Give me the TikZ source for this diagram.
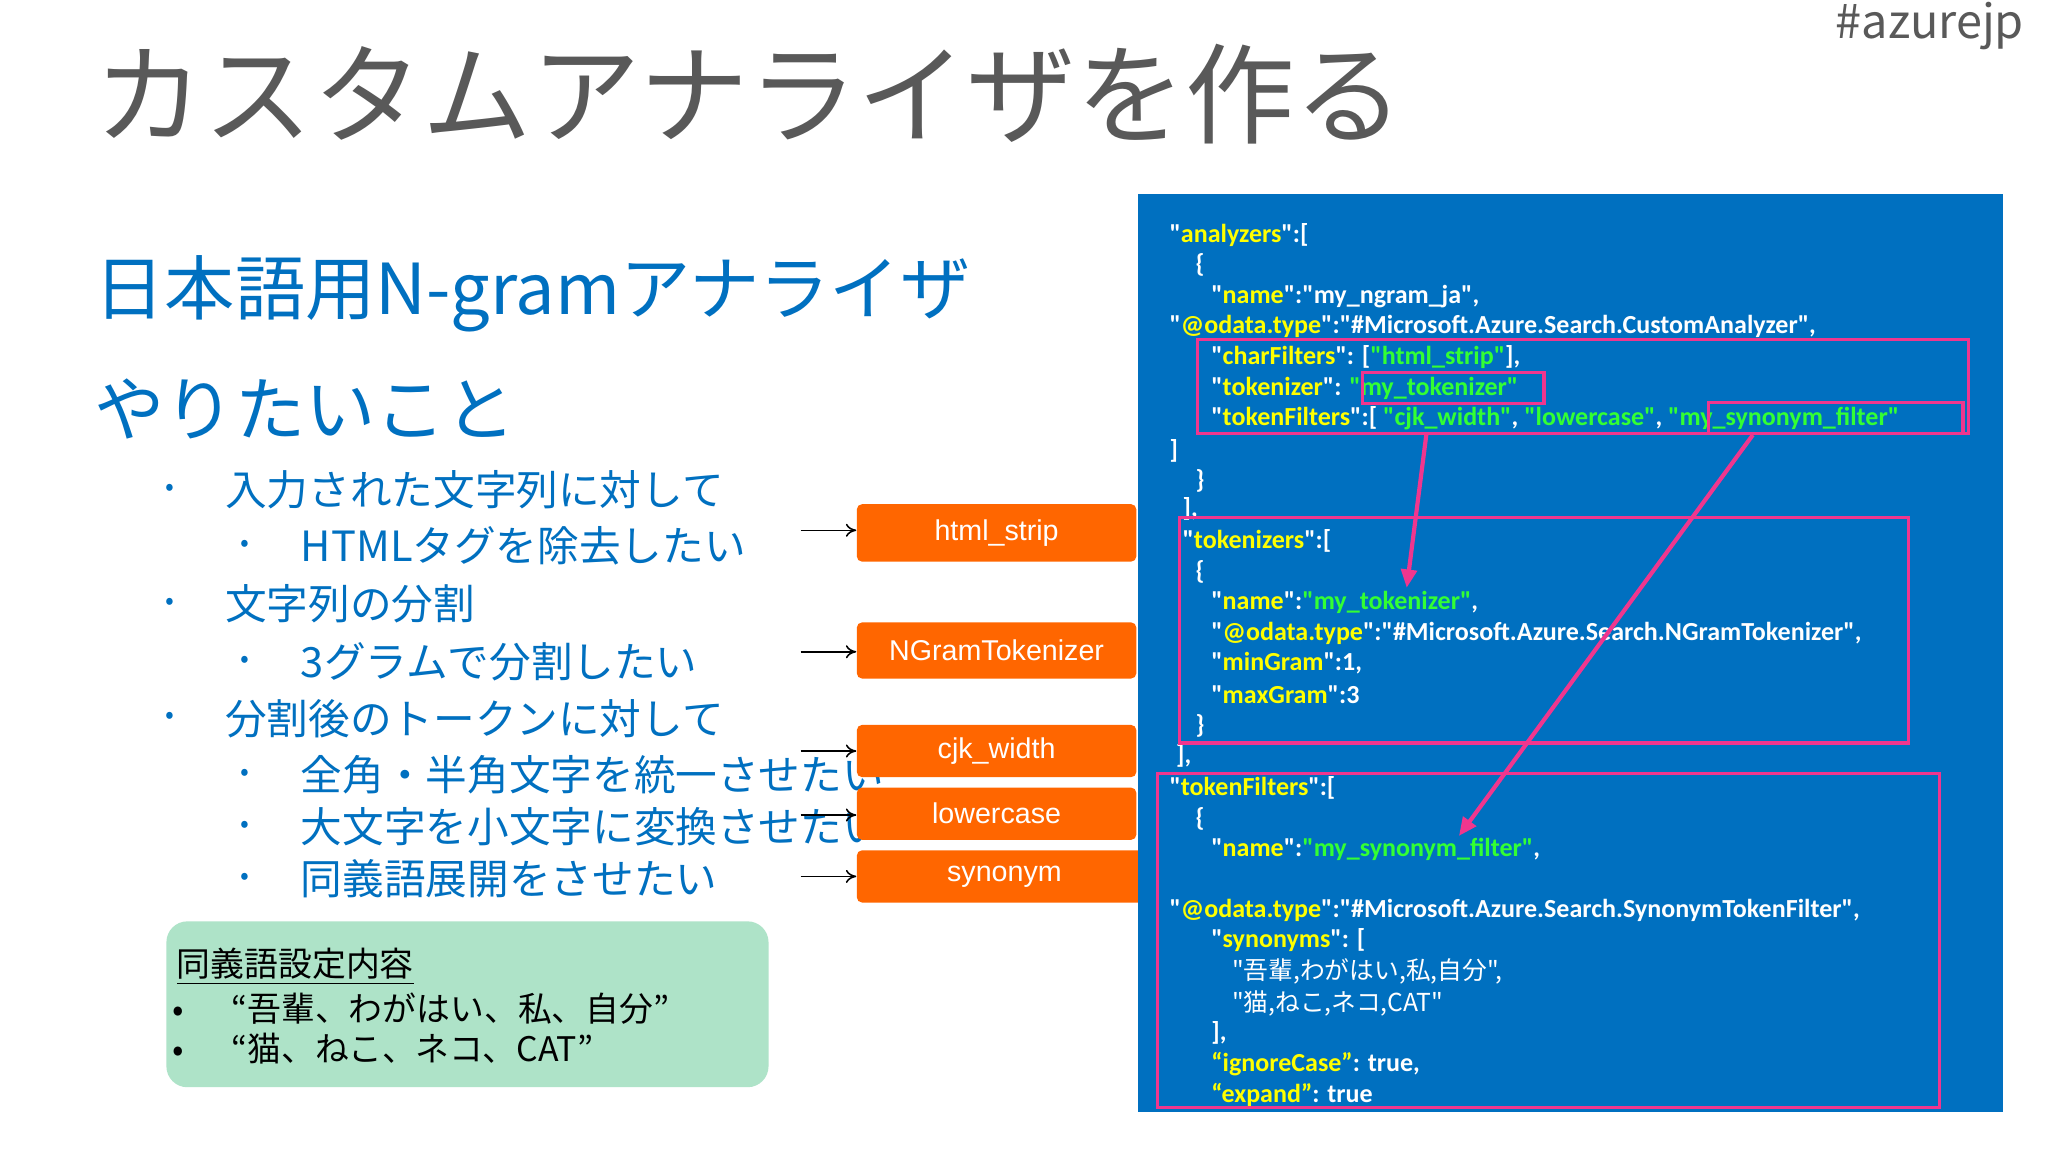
\documentclass[tikz,border=0pt]{standalone}
\usepackage{fontspec}
\setmainfont{Noto Sans CJK JP}
\newfontfamily\cjk{Noto Sans CJK JP}
\newfontfamily\code{Carlito}
\newfontfamily\boxf{Liberation Sans}
\usetikzlibrary{arrows.meta}
\definecolor{ttl}{HTML}{595959}
\definecolor{msblue}{HTML}{0070C0}
\definecolor{orng}{HTML}{FF6600}
\definecolor{mint}{HTML}{AEE3C8}
\definecolor{pnk}{HTML}{F0368E}
\definecolor{keyy}{HTML}{FFFF00}
\definecolor{grn}{HTML}{33FF33}
\newcommand\jk[1]{\textcolor{white}{"}\textcolor{keyy}{#1}\textcolor{white}{"}}
\newcommand\jg[1]{\textcolor{grn}{"#1"}}
\begin{document}
\begin{tikzpicture}[x=0.5bp,y=-0.5bp,
  ln/.style={anchor=west,inner sep=0,font=\code\bfseries\fontsize{10}{12}\selectfont,text=white},
  bl/.style={anchor=west,inner sep=0,font=\cjk\fontsize{16}{19}\selectfont,text=msblue},
  ob/.style={fill=orng,draw=none,rounded corners=2bp,text=white,font=\boxf\fontsize{11}{13}\selectfont},
  pb/.style={draw=pnk,line width=1.3bp},
  pa/.style={draw=pnk,line width=1.6bp,-{Triangle[length=7bp,width=6bp]}},
  sa/.style={draw=black,line width=0.6bp,-{To[length=4bp,width=5bp]}}]
\useasboundingbox (0,0) rectangle (1568,882);
\fill[white] (0,0) rectangle (1568,882);
% titles
\node[anchor=west,inner sep=0,text=ttl,font=\cjk\fontsize{42}{48}\selectfont] (title) at (72,72) {カスタムアナライザを作る};
\node[anchor=east,inner sep=0,text=ttl,font=\cjk\fontsize{18}{22}\selectfont] (tag) at (1550,20) {\#azurejp};
\node[anchor=west,inner sep=0,text=msblue,font=\cjk\fontsize{27}{32}\selectfont] (sub1) at (72,225) {日本語用N-gramアナライザ};
\node[anchor=west,inner sep=0,text=msblue,font=\cjk\fontsize{27}{32}\selectfont] (sub2) at (72,313) {やりたいこと};
% bullets
\foreach \y/\t [count=\i] in {375/入力された文字列に対して,462/文字列の分割,550/分割後のトークンに対して}{
  \node[bl,font=\cjk\fontsize{10}{12}\selectfont] (ba\i) at (126,\y) {•};
  \node[bl] (la\i) at (172,\y) {\t};}
\foreach \y/\t [count=\i] in {418/HTMLタグを除去したい,507/3グラムで分割したい,593/全角・半角文字を統一させたい,633/大文字を小文字に変換させたい,673/同義語展開をさせたい}{
  \node[bl,font=\cjk\fontsize{10}{12}\selectfont] (bb\i) at (184,\y) {•};
  \node[bl] (lb\i) at (230,\y) {\t};}
% orange boxes
\node[ob,minimum width=214*0.5bp,minimum height=44*0.5bp] (o1) at (763,408) {html\_strip};
\node[ob,minimum width=214*0.5bp,minimum height=43*0.5bp] (o2) at (763,498) {NGramTokenizer};
\node[ob,minimum width=214*0.5bp,minimum height=40*0.5bp] (o3) at (763,575) {cjk\_width};
\node[ob,minimum width=214*0.5bp,minimum height=40*0.5bp] (o4) at (763,623) {lowercase};
\node[ob,minimum width=226*0.5bp,minimum height=40*0.5bp] (o5) at (769,671) {synonym};
\foreach \i/\y in {1/406,2/499,3/575,4/624,5/671}{
  \coordinate (s\i) at (613,\y);
  \draw[sa] (s\i) -- (s\i -| o\i.west);}
% green box
\node[fill=mint,rounded corners=8bp,minimum width=461*0.5bp,minimum height=127*0.5bp,anchor=north west] (gb) at (127,705) {};
\node[anchor=west,inner sep=0,font=\cjk\fontsize{13}{16}\selectfont] (g0) at (135,740) {\underline{同義語設定内容}};
\node[anchor=west,inner sep=0,font=\cjk\fontsize{13}{16}\selectfont] (g1) at (132,772) {•\hspace{18bp}“吾輩、わがはい、私、自分”};
\node[anchor=west,inner sep=0,font=\cjk\fontsize{13}{16}\selectfont] (g2) at (132,803) {•\hspace{18bp}“猫、ねこ、ネコ、CAT”};
% code box
\node[fill=msblue,minimum width=662*0.5bp,minimum height=703*0.5bp,anchor=north west,inner sep=0] (cb) at (871,148) {};
\node[ln] (c1) at (895,180) {\jk{analyzers}:[};
\node[ln] (c2) at (915,203) {\{};
\node[ln] (c3) at (927,227) {\jk{name}:"my\_ngram\_ja",};
\node[ln] (c4) at (895,250) {\jk{@odata.type}:"\#Microsoft.Azure.Search.CustomAnalyzer",};
\node[ln] (c5) at (927,273) {\jk{charFilters}: [\jg{html\_strip}],};
\node[ln] (c6) at (927,297) {\jk{tokenizer}: \jg{my\_tokenizer}};
\node[ln] (c7) at (927,320) {\jk{tokenFilters}:[ \jg{cjk\_width}, \jg{lowercase}, \jg{my\_synonym\_filter}};
\node[ln] (c8) at (895,345) {]};
\node[ln] (c9) at (915,368) {\}};
\node[ln] (c10) at (905,390) {],};
\node[ln] (c11) at (905,414) {\jk{tokenizers}:[};
\node[ln] (c12) at (915,438) {\{};
\node[ln] (c13) at (927,461) {\jk{name}:\jg{my\_tokenizer},};
\node[ln] (c14) at (927,485) {\jk{@odata.type}:"\#Microsoft.Azure.Search.NGramTokenizer",};
\node[ln] (c15) at (927,508) {\jk{minGram}:1,};
\node[ln] (c16) at (927,532) {\jk{maxGram}:3};
\node[ln] (c17) at (915,556) {\}};
\node[ln] (c18) at (900,579) {],};
\node[ln] (c19) at (895,603) {\jk{tokenFilters}:[};
\node[ln] (c20) at (915,627) {\{};
\node[ln] (c21) at (927,650) {\jk{name}:\jg{my\_synonym\_filter},};
\node[ln] (c22) at (895,697) {\jk{@odata.type}:"\#Microsoft.Azure.Search.SynonymTokenFilter",};
\node[ln] (c23) at (927,720) {\jk{synonyms}: [};
\node[ln,font=\cjk\fontsize{9.5}{12}\selectfont] (c24) at (943,744) {"吾輩,わがはい,私,自分",};
\node[ln,font=\cjk\fontsize{9.5}{12}\selectfont] (c25) at (943,768) {"猫,ねこ,ネコ,CAT"};
\node[ln] (c26) at (927,791) {],};
\node[ln] (c27) at (927,815) {\textcolor{keyy}{“ignoreCase”}: true,};
\node[ln] (c28) at (927,838) {\textcolor{keyy}{“expand”}: true};
% pink boxes
\draw[pb] (917,260) rectangle (1507,332);
\draw[pb] (1043,285) rectangle (1182,309);
\draw[pb] (1308,308) rectangle (1503,332);
\draw[pb] (903,396) rectangle (1461,569);
\draw[pb] (886,592) rectangle (1485,848);
\coordinate (a1) at (1092,333);
\coordinate (a2) at (1077,450);
\coordinate (b1) at (1342,333);
\coordinate (b2) at (1117,640);
\draw[pa] (a1) -- (a2);
\draw[pa] (b1) -- (b2);
\end{tikzpicture}
\end{document}
